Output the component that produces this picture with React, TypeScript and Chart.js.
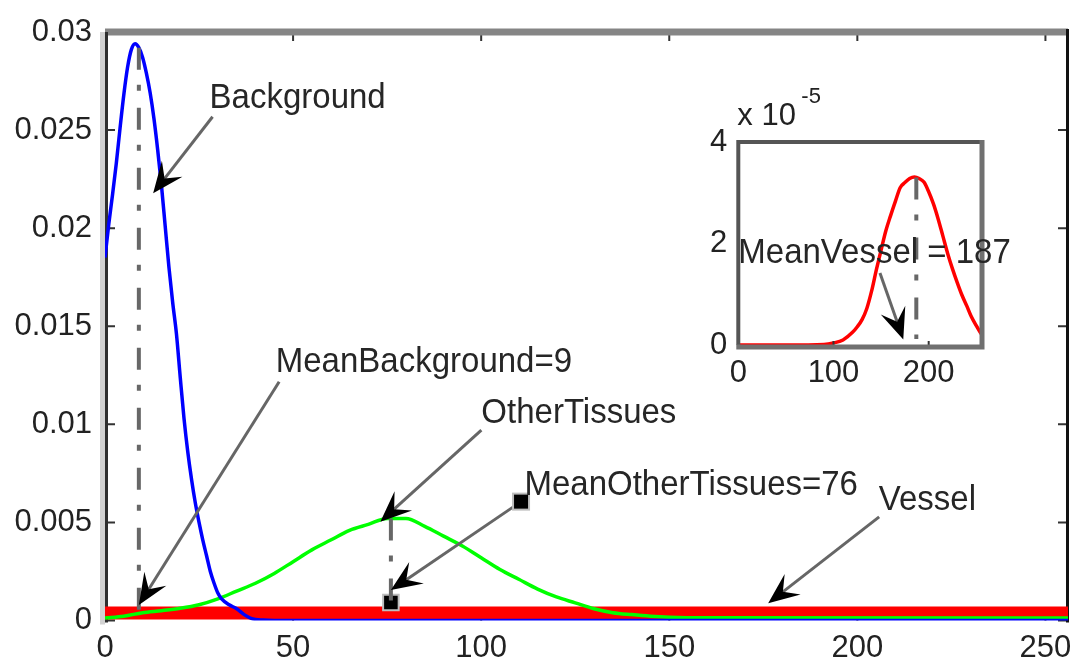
import React, { useEffect, useRef } from "react";
import { Chart, registerables } from "chart.js";

Chart.register(...registerables);

const FONT_FAMILY = "'Liberation Sans', Arial, Helvetica, sans-serif";
const TEXT_COLOR = "#222222";

// Main axes ticks (grey level vs. probability density)
const xTicks = [0, 50, 100, 150, 200, 250];
const xTickLabels = ["0", "50", "100", "150", "200", "250"];
const yTicks = [0, 0.005, 0.01, 0.015, 0.02, 0.025, 0.03];
const yTickLabels = ["0", "0.005", "0.01", "0.015", "0.02", "0.025", "0.03"];

// Background class density
const backgroundX = [
  0, 1, 2, 3, 4, 5, 6, 7, 8, 9, 10, 11, 12, 13, 14, 15, 16, 17, 18, 19, 20,
  21, 22, 23, 24, 25, 26, 27, 28, 29, 30, 31, 33, 35, 37, 39, 42, 45, 50, 256,
];
const backgroundY = [
  0.0185, 0.0202, 0.0217, 0.0233, 0.0251, 0.0268, 0.0282, 0.0291, 0.0294,
  0.0292, 0.0287, 0.0279, 0.0269, 0.0256, 0.024, 0.0222, 0.0201, 0.018,
  0.0162, 0.0146, 0.0124, 0.0103, 0.0086, 0.0072, 0.006, 0.005, 0.0041,
  0.0033, 0.0025, 0.0019, 0.0014, 0.0011, 0.0008, 0.0006, 0.0003, 0.0001,
  0.00002, 0, 0, 0,
];

// Other tissues class density
const otherX = [
  0, 5, 10, 15, 20, 25, 30, 35, 40, 45, 50, 55, 60, 65, 70, 75, 80, 85, 90,
  95, 100, 105, 110, 115, 120, 125, 130, 135, 140, 145, 150, 160, 256,
];
const otherY = [
  0.00013, 0.00022, 0.0004, 0.0005, 0.00062, 0.0008, 0.0011, 0.0015, 0.0019,
  0.0024, 0.003, 0.0036, 0.0041, 0.0046, 0.0049, 0.0052, 0.0052, 0.0048,
  0.0043, 0.0038, 0.0032, 0.0026, 0.0021, 0.0016, 0.0012, 0.0009, 0.0006,
  0.0004, 0.0003, 0.00022, 0.00017, 0.00014, 0.00013,
];

// Vessel class seen at the main scale: a thick band just above zero
const vesselBandX = [0, 256];
const vesselBandY = [0.00038, 0.00038];

// Vessel class density at its own scale (inset)
const vesselX = [
  0, 50, 90, 100, 110, 120, 125, 130, 135, 140, 145, 150, 155, 160, 165, 170,
  175, 180, 185, 190, 195, 200, 205, 210, 215, 220, 225, 230, 235, 240, 245,
  250, 255,
];
const vesselY = [
  0, 0, 0.01e-5, 0.04e-5, 0.1e-5, 0.25e-5, 0.36e-5, 0.5e-5, 0.72e-5, 1.06e-5,
  1.48e-5, 1.87e-5, 2.25e-5, 2.55e-5, 2.83e-5, 3.1e-5, 3.2e-5, 3.28e-5,
  3.31e-5, 3.28e-5, 3.21e-5, 3.02e-5, 2.78e-5, 2.48e-5, 2.14e-5, 1.8e-5,
  1.5e-5, 1.23e-5, 0.98e-5, 0.77e-5, 0.55e-5, 0.38e-5, 0.22e-5,
];
const insetXTicks = [0, 100, 200];
const insetXTickLabels = ["0", "100", "200"];
const insetYTicks = [0, 2e-5, 4e-5];
const insetYTickLabels = ["0", "2", "4"];

// Class means and the extent of their dash-dot markers
const meanBackground = 9;
const meanBackgroundTop = 0.0292;
const meanOther = 76;
const meanOtherTop = 0.0052;
const meanOtherBottom = 0.00092;
const meanVessel = 187;
const meanVesselTop = 3.3e-5;
const meanVesselBottom = 0.12e-5;

// Text arrows: label anchor (left, baseline), arrow tail and arrow tip in data units
const mainNotes = [
  { text: "Background", tx: 27.8, ty: 0.02613, x1: 28.6, y1: 0.02568, x2: 12.8, y2: 0.02178, tailSquare: false },
  { text: "MeanBackground=9", tx: 45.4, ty: 0.01267, x1: 46.3, y1: 0.01217, x2: meanBackground, y2: 0.00079, tailSquare: false },
  { text: "OtherTissues", tx: 100.05, ty: 0.01005, x1: 100.05, y1: 0.00971, x2: 73.2, y2: 0.00504, tailSquare: false },
  { text: "MeanOtherTissues=76", tx: 111.5, ty: 0.0064, x1: 110.6, y1: 0.00606, x2: meanOther, y2: 0.00155, tailSquare: true },
  { text: "Vessel", tx: 205.7, ty: 0.00563, x1: 205.8, y1: 0.00528, x2: 176.3, y2: 0.00088, tailSquare: false },
];
const insetNotes = [
  { text: "MeanVessel = 187", tx: 0, ty: 1.62e-5, x1: 148.8, y1: 1.42e-5, x2: 173.3, y2: 0.11e-5, tailSquare: false },
];

const toPoints = (xs: number[], ys: number[]) => xs.map((x, i) => ({ x, y: ys[i] }));

function drawArrow(ctx: CanvasRenderingContext2D, x1: number, y1: number, x2: number, y2: number) {
  const dx = x2 - x1;
  const dy = y2 - y1;
  const len = Math.hypot(dx, dy);
  const ux = dx / len;
  const uy = dy / len;
  const nx = -uy;
  const ny = ux;
  const L = 31;
  const W = 13;
  const notch = 0.6 * L;
  ctx.save();
  ctx.strokeStyle = "#666666";
  ctx.lineWidth = 3;
  ctx.beginPath();
  ctx.moveTo(x1, y1);
  ctx.lineTo(x2 - ux * notch, y2 - uy * notch);
  ctx.stroke();
  ctx.fillStyle = "#000";
  ctx.beginPath();
  ctx.moveTo(x2, y2);
  ctx.lineTo(x2 - ux * L + nx * W, y2 - uy * L + ny * W);
  ctx.lineTo(x2 - ux * notch, y2 - uy * notch);
  ctx.lineTo(x2 - ux * L - nx * W, y2 - uy * L - ny * W);
  ctx.closePath();
  ctx.fill();
  ctx.restore();
}

function drawNotes(chart: any, notes: typeof mainNotes) {
  const { ctx, scales } = chart;
  const xs = scales.x;
  const ys = scales.y;
  ctx.save();
  for (const n of notes) {
    const tx = xs.getPixelForValue(n.tx);
    const ty = ys.getPixelForValue(n.ty);
    const x1 = xs.getPixelForValue(n.x1);
    const y1 = ys.getPixelForValue(n.y1);
    const x2 = xs.getPixelForValue(n.x2);
    const y2 = ys.getPixelForValue(n.y2);
    drawArrow(ctx, x1, y1, x2, y2);
    if (n.tailSquare) {
      ctx.fillStyle = "#bdbdbd";
      ctx.fillRect(x1 - 9, y1 - 9, 18, 18);
      ctx.fillStyle = "#000";
      ctx.fillRect(x1 - 7, y1 - 7, 14, 14);
    }
    // slightly tall lettering, scaled about the baseline
    ctx.save();
    ctx.translate(tx, ty);
    ctx.scale(1, 1.07);
    ctx.font = `33px ${FONT_FAMILY}`;
    ctx.fillStyle = "#262626";
    ctx.textAlign = "left";
    ctx.textBaseline = "alphabetic";
    ctx.fillText(n.text, 0, 0);
    ctx.restore();
  }
  ctx.restore();
}

const dashDot = (x: number, yTop: number, yBottom: number) => ({
  type: "line" as const,
  data: [
    { x, y: yTop },
    { x, y: yBottom },
  ],
  borderColor: "#676767",
  borderWidth: 4,
  borderDash: [22, 15, 6, 17],
  pointRadius: 0,
  tension: 0,
  order: 0,
});

const tickFont = { family: FONT_FAMILY, size: 31 };

export default function App() {
  const mainRef = useRef<HTMLCanvasElement>(null);
  const insetRef = useRef<HTMLCanvasElement>(null);

  useEffect(() => {
    const mainFrame = {
      id: "mainFrame",
      beforeDatasetsDraw(chart: any) {
        const { ctx, chartArea: a, scales } = chart;
        ctx.save();
        ctx.strokeStyle = "#333";
        ctx.lineWidth = 2;
        ctx.beginPath();
        for (const v of xTicks) {
          const px = scales.x.getPixelForValue(v);
          ctx.moveTo(px, a.top);
          ctx.lineTo(px, a.top + 9);
          ctx.moveTo(px, a.bottom);
          ctx.lineTo(px, a.bottom - 9);
        }
        for (const v of yTicks) {
          const py = scales.y.getPixelForValue(v);
          ctx.moveTo(a.left, py);
          ctx.lineTo(a.left + 10, py);
          ctx.moveTo(a.right, py);
          ctx.lineTo(a.right - 10, py);
        }
        ctx.stroke();
        // box
        ctx.lineWidth = 7;
        ctx.strokeStyle = "#858585";
        ctx.beginPath();
        ctx.moveTo(a.left, a.top);
        ctx.lineTo(a.right, a.top);
        ctx.stroke();
        ctx.lineWidth = 5;
        ctx.strokeStyle = "#d2d2d2";
        ctx.beginPath();
        ctx.moveTo(a.left - 2.5, a.top);
        ctx.lineTo(a.left - 2.5, a.bottom + 4);
        ctx.stroke();
        ctx.lineWidth = 3;
        ctx.strokeStyle = "#2f2f2f";
        ctx.beginPath();
        ctx.moveTo(a.left + 1.5, a.top);
        ctx.lineTo(a.left + 1.5, a.bottom + 2);
        ctx.stroke();
        ctx.strokeStyle = "#111";
        ctx.beginPath();
        ctx.moveTo(a.right - 0.5, a.top - 3);
        ctx.lineTo(a.right - 0.5, a.bottom + 2);
        ctx.stroke();
        ctx.restore();
      },
      afterDatasetsDraw(chart: any) {
        drawNotes(chart, mainNotes);
      },
    };

    const main = new Chart(mainRef.current as HTMLCanvasElement, {
      type: "line",
      data: {
        datasets: [
          dashDot(meanBackground, meanBackgroundTop, 0) as any,
          dashDot(meanOther, meanOtherTop, meanOtherBottom) as any,
          {
            type: "line",
            data: [{ x: meanOther, y: meanOtherBottom }],
            showLine: false,
            pointStyle: "rect",
            pointRadius: 11,
            pointBackgroundColor: "#000",
            pointBorderColor: "#bdbdbd",
            pointBorderWidth: 2,
            order: 0,
          },
          {
            label: "Background",
            data: toPoints(backgroundX, backgroundY),
            borderColor: "#0000ff",
            borderWidth: 3.5,
            pointRadius: 0,
            cubicInterpolationMode: "monotone",
            order: 1,
          },
          {
            label: "OtherTissues",
            data: toPoints(otherX, otherY),
            borderColor: "#00ff00",
            borderWidth: 3.5,
            pointRadius: 0,
            cubicInterpolationMode: "monotone",
            order: 2,
          },
          {
            label: "Vessel",
            data: toPoints(vesselBandX, vesselBandY),
            borderColor: "#ff0000",
            borderWidth: 13,
            pointRadius: 0,
            clip: 0,
            order: 3,
          },
        ],
      },
      options: {
        animation: false,
        responsive: false,
        events: [],
        layout: { padding: { top: 32, right: 8, left: 0, bottom: 0 } },
        plugins: { legend: { display: false }, tooltip: { enabled: false } },
        scales: {
          x: {
            type: "linear",
            min: 0,
            max: 256,
            border: { display: false },
            grid: { display: false, drawTicks: false },
            ticks: {
              font: tickFont,
              color: TEXT_COLOR,
              padding: 9,
              maxRotation: 0,
              autoSkip: false,
              callback: (_v: any, i: number) => xTickLabels[i],
            },
            afterBuildTicks: (s: any) => {
              s.ticks = xTicks.map((value) => ({ value }));
            },
            afterFit: (s: any) => {
              s.height = 46.5;
              s.paddingLeft = 0;
              s.paddingRight = 0;
            },
          },
          y: {
            type: "linear",
            min: 0,
            max: 0.03,
            border: { display: false },
            grid: { display: false, drawTicks: false },
            ticks: {
              font: tickFont,
              color: TEXT_COLOR,
              padding: 13,
              autoSkip: false,
              callback: (_v: any, i: number) => yTickLabels[i],
            },
            afterBuildTicks: (s: any) => {
              s.ticks = yTicks.map((value) => ({ value }));
            },
            afterFit: (s: any) => {
              s.width = 105;
              s.paddingTop = 0;
              s.paddingBottom = 0;
            },
          },
        },
      } as any,
      plugins: [mainFrame],
    });

    const insetFrame = {
      id: "insetFrame",
      beforeDatasetsDraw(chart: any) {
        const { ctx, chartArea: a } = chart;
        ctx.save();
        ctx.fillStyle = "#fff";
        ctx.fillRect(a.left, a.top, a.right - a.left, a.bottom - a.top);
        ctx.restore();
      },
      afterDatasetsDraw(chart: any) {
        const { ctx, chartArea: a, scales } = chart;
        ctx.save();
        ctx.strokeStyle = "#333";
        ctx.lineWidth = 2;
        ctx.beginPath();
        for (const v of insetXTicks) {
          const px = scales.x.getPixelForValue(v);
          ctx.moveTo(px, a.bottom);
          ctx.lineTo(px, a.bottom - 4);
        }
        ctx.stroke();
        ctx.lineWidth = 4;
        ctx.strokeStyle = "#555";
        ctx.beginPath();
        ctx.moveTo(a.left, a.bottom);
        ctx.lineTo(a.left, a.top);
        ctx.lineTo(a.right, a.top);
        ctx.stroke();
        ctx.lineWidth = 5;
        ctx.strokeStyle = "#707070";
        ctx.beginPath();
        ctx.moveTo(a.right, a.top - 2);
        ctx.lineTo(a.right, a.bottom + 2);
        ctx.lineTo(a.left - 2, a.bottom + 2);
        ctx.stroke();
        // scale factor label
        ctx.fillStyle = TEXT_COLOR;
        ctx.textAlign = "left";
        ctx.textBaseline = "alphabetic";
        ctx.font = `31px ${FONT_FAMILY}`;
        ctx.fillText("x 10", a.left - 1, a.top - 17);
        ctx.font = `22px ${FONT_FAMILY}`;
        ctx.fillText("-5", a.left + 63, a.top - 39);
        ctx.restore();
        drawNotes(chart, insetNotes);
      },
    };

    const inset = new Chart(insetRef.current as HTMLCanvasElement, {
      type: "line",
      data: {
        datasets: [
          dashDot(meanVessel, meanVesselTop, meanVesselBottom) as any,
          {
            label: "Vessel",
            data: toPoints(vesselX, vesselY),
            borderColor: "#ff0000",
            borderWidth: 3.5,
            pointRadius: 0,
            cubicInterpolationMode: "monotone",
            order: 1,
          },
        ],
      },
      options: {
        animation: false,
        responsive: false,
        events: [],
        layout: { padding: { top: 82, right: 78, left: 0, bottom: 0 } },
        plugins: { legend: { display: false }, tooltip: { enabled: false } },
        scales: {
          x: {
            type: "linear",
            min: 0,
            max: 256,
            border: { display: false },
            grid: { display: false, drawTicks: false },
            ticks: {
              font: tickFont,
              color: TEXT_COLOR,
              padding: 10,
              maxRotation: 0,
              autoSkip: false,
              callback: (_v: any, i: number) => insetXTickLabels[i],
            },
            afterBuildTicks: (s: any) => {
              s.ticks = insetXTicks.map((value) => ({ value }));
            },
            afterFit: (s: any) => {
              s.height = 65;
              s.paddingLeft = 0;
              s.paddingRight = 0;
            },
          },
          y: {
            type: "linear",
            min: 0,
            max: 4e-5,
            border: { display: false },
            grid: { display: false, drawTicks: false },
            ticks: {
              font: tickFont,
              color: TEXT_COLOR,
              padding: 11,
              autoSkip: false,
              callback: (_v: any, i: number) => insetYTickLabels[i],
            },
            afterBuildTicks: (s: any) => {
              s.ticks = insetYTicks.map((value) => ({ value }));
            },
            afterFit: (s: any) => {
              s.width = 48.3;
              s.paddingTop = 0;
              s.paddingBottom = 0;
            },
          },
        },
      } as any,
      plugins: [insetFrame],
    });

    return () => {
      main.destroy();
      inset.destroy();
    };
  }, []);

  return (
    <div style={{ position: "absolute", left: 0, top: 0, width: 1081, height: 667, background: "#fff" }}>
      <canvas ref={mainRef} width={1081} height={667} style={{ position: "absolute", left: 0, top: 0 }} />
      <canvas ref={insetRef} width={370} height={350} style={{ position: "absolute", left: 690, top: 60 }} />
    </div>
  );
}
